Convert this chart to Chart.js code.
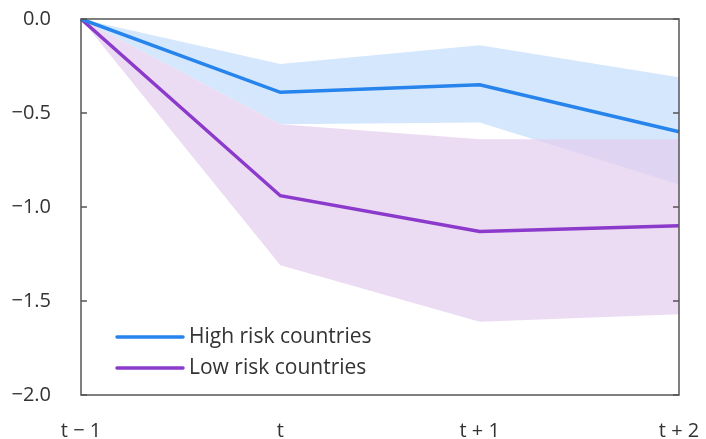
<!DOCTYPE html>
<html lang="en">
<head>
  <meta charset="UTF-8">
  <title>High vs low risk countries</title>
  <script src="https://cdn.jsdelivr.net/npm/chart.js"></script>
  <style>
    html, body { margin: 0; padding: 0; background: #fff; }
    #wrap { width: 706px; height: 439px; }
  </style>
</head>
<body>
<div id="wrap"><canvas id="grafico"></canvas></div>

<script>
  // values
  const periodos = ["t \u2212 1", "t", "t + 1", "t + 2"];
  const altoRiesgo = [0, -0.39, -0.35, -0.60];
  const altoSup = [0, -0.24, -0.14, -0.31];
  const altoInf = [0, -0.56, -0.55, -0.88];
  const bajoRiesgo = [0, -0.94, -1.13, -1.10];
  const bajoSup = [0, -0.56, -0.64, -0.64];
  const bajoInf = [0, -1.31, -1.61, -1.57];
  const ticksY = [0, -0.5, -1, -1.5, -2];
  const nombres = ["High risk countries", "Low risk countries"];

  const azul = "rgb(38, 132, 236)";
  const morado = "rgb(140, 58, 204)";
  const azulBanda = "rgba(46, 134, 240, 0.2)";
  const moradoBanda = "rgba(227, 206, 238, 0.72)";
  const gris = "#555";
  const texto = "#333";
  const fuente = "'Open Sans', 'Noto Sans', sans-serif";

  const banda = (data, fill, color, orden) => ({
    data: data, fill: fill, backgroundColor: color,
    borderWidth: 0, pointRadius: 0, order: orden, tension: 0
  });

  // frame, inward ticks and legend
  const marco = {
    id: "marco",
    afterDraw(chart) {
      const { ctx, chartArea: a, scales } = chart;
      ctx.save();
      ctx.strokeStyle = gris;
      ctx.lineWidth = 1.5;
      ctx.strokeRect(a.left, a.top, a.right - a.left, a.bottom - a.top);
      ticksY.forEach(v => {
        const y = scales.y.getPixelForValue(v);
        ctx.beginPath();
        ctx.moveTo(a.left, y); ctx.lineTo(a.left + 6, y);
        ctx.moveTo(a.right, y); ctx.lineTo(a.right - 6, y);
        ctx.stroke();
      });

      const colores = [azul, morado];
      ctx.font = "21px " + fuente;
      ctx.textBaseline = "middle";
      nombres.forEach((n, i) => {
        const y = a.top + 318 + i * 31;
        ctx.strokeStyle = colores[i];
        ctx.lineWidth = 3.5;
        ctx.lineCap = "round";
        ctx.beginPath();
        ctx.moveTo(a.left + 36, y); ctx.lineTo(a.left + 102, y);
        ctx.stroke();
        ctx.fillStyle = texto;
        ctx.fillText(n, a.left + 108, y);
      });
      ctx.restore();
    }
  };

  new Chart(document.getElementById("grafico"), {
    type: "line",
    data: {
      labels: periodos,
      datasets: [
        { label: nombres[0], data: altoRiesgo, borderColor: azul, borderWidth: 3.5, pointRadius: 0, fill: false, order: 0 },
        { label: nombres[1], data: bajoRiesgo, borderColor: morado, borderWidth: 3.5, pointRadius: 0, fill: false, order: 0 },
        banda(altoInf, false, azulBanda, 3),
        banda(altoSup, "-1", azulBanda, 3),
        banda(bajoInf, false, moradoBanda, 2),
        banda(bajoSup, "-1", moradoBanda, 2)
      ]
    },
    options: {
      responsive: true,
      maintainAspectRatio: false,
      animation: false,
      layout: { padding: { top: 19, right: 27, left: 0, bottom: 0 } },
      plugins: { legend: { display: false }, tooltip: { enabled: false } },
      scales: {
        x: {
          offset: false,
          grid: { display: false },
          border: { display: false },
          ticks: { color: texto, font: { family: fuente, size: 20 }, padding: 16, maxRotation: 0 },
          afterFit(s) { s.height = 44; s.paddingLeft = 0; s.paddingRight = 0; }
        },
        y: {
          min: -2, max: 0,
          grid: { display: false },
          border: { display: false },
          afterBuildTicks(s) { s.ticks = ticksY.map(v => ({ value: v })); },
          ticks: {
            color: texto, font: { family: fuente, size: 20 }, padding: 22,
            callback: v => (v < 0 ? "\u2212" : "") + Math.abs(v).toFixed(1)
          },
          afterFit(s) { s.width = 81; s.paddingTop = 0; s.paddingBottom = 0; }
        }
      }
    },
    plugins: [marco]
  });
</script>
</body>
</html>
